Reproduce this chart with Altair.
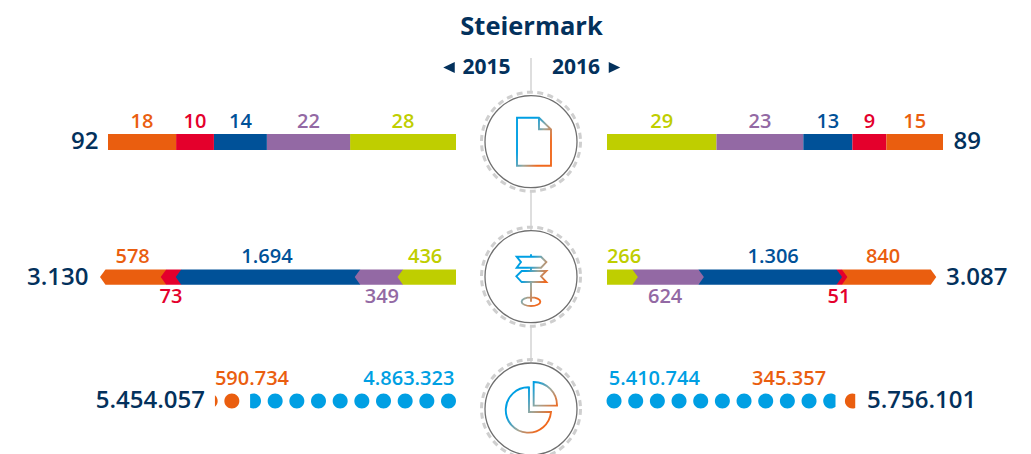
import math
import altair as alt
import pandas as pd

# ---------- data ----------
SEG_COLORS = ["#bfce00", "#9369a4", "#005198", "#e4002c", "#ea5e0f"]  # centre -> outside
TITLE = "Steiermark"
YEARS = ["2015", "2016"]

docs_2015 = [28, 22, 14, 10, 18]
docs_2016 = [29, 23, 13, 9, 15]
docs_totals = [92, 89]

kms_2015 = [436, 349, 1694, 73, 578]
kms_2016 = [266, 624, 1306, 51, 840]
kms_totals = [3130, 3087]
# segment ends of the 2015 arrow as drawn in the picture (not strictly proportional)
kms_2015_drawn_ends = [494, 873, 2459, 2592, 3130]

people_2015 = [4863323, 590734]
people_2016 = [5410744, 345357]
people_totals = [5454057, 5756101]
PEOPLE_PER_DOT = 500000

# ---------- layout (page pixels) ----------
W, H, M = 1023, 454, 8   # the svg may not be wider than window minus both page margins
CX = 531
FONT = "Open Sans"
NAVY = "#03315c"
DOT_BLUE = "#009fe3"
ORANGE = "#ea5e0f"
LABEL_SIZE = 20
Y_SCALE = alt.Scale(domain=[M, H], range=[0, H - M])
PAGE_X = alt.Scale(domain=[M, W], range=[0, W - M])


def fmt(v):
    return f"{v:,}".replace(",", ".")


def xs(domain, px):
    return alt.Scale(domain=domain, range=[p - M for p in px])


def y(field="y"):
    return alt.Y(f"{field}:Q", scale=Y_SCALE, axis=None)


def text_layer(rows, scale, size, align="center", weight=600):
    return alt.Chart(pd.DataFrame(rows)).mark_text(
        font=FONT, fontSize=size, fontWeight=weight, align=align, baseline="middle", clip=False
    ).encode(
        x=alt.X("x:Q", scale=scale, axis=None),
        y=y(),
        text="t:N",
        color=alt.Color("c:N", scale=None),
    )


layers = []

# connectors
conn = pd.DataFrame({"x": [CX] * 3, "y": [58, 190, 327], "y2": [92, 230, 362]})
layers.append(alt.Chart(conn).mark_rule(color="#bdbdbd", strokeWidth=1).encode(
    x=alt.X("x:Q", scale=PAGE_X, axis=None), y=y(), y2="y2:Q"))


# ---------- row 1: flat stacked bars ----------
def flat_row(values, px, ymin, ymax, ylab):
    scale = xs([0, sum(values)], px)
    rows, labs = [], []
    c = 0
    for v, col in zip(values, SEG_COLORS):
        rows.append({"a": c, "b": c + v, "y": ymin, "y2": ymax, "c": col})
        labs.append({"x": c + v / 2, "y": ylab, "t": fmt(v), "c": col})
        c += v
    bar = alt.Chart(pd.DataFrame(rows)).mark_rect().encode(
        x=alt.X("a:Q", scale=scale, axis=None), x2="b:Q", y=y(), y2="y2:Q",
        color=alt.Color("c:N", scale=None))
    return [bar, text_layer(labs, scale, LABEL_SIZE)]


layers += flat_row(docs_2015, [456, 108], 134, 150, 122)
layers += flat_row(docs_2016, [607, 943], 134, 150, 122)


# ---------- row 2: chevron arrows ----------
def arrow_row(values, ends, px, tip_px, ytop, ybot, ylab_top, ylab_bot, nudges):
    total = values and ends[-1]
    scale = xs([0, total], px)
    units_per_px = abs(total / (px[1] - px[0]))
    d = tip_px * units_per_px
    ymid = (ytop + ybot) / 2
    pts, labs = [], []
    starts = [0] + ends[:-1]
    for i in reversed(range(len(values))):
        inner = 0 if i == 0 else starts[i] - d
        e = ends[i]
        for yy, tip in ((ytop, -d), (ymid, d), (ybot, -d)):
            pts.append({"y": yy, "a": inner, "b": e + tip, "seg": i, "c": SEG_COLORS[i]})
    for i, v in enumerate(values):
        labs.append({"x": (starts[i] + ends[i]) / 2 + nudges[i] * units_per_px,
                     "y": ylab_top if i in (0, 2, 4) else ylab_bot,
                     "t": fmt(v), "c": SEG_COLORS[i]})
    area = alt.Chart(pd.DataFrame(pts)).mark_area(orient="horizontal", opacity=1).encode(
        y=y(), x=alt.X("a:Q", scale=scale, axis=None), x2="b:Q",
        color=alt.Color("c:N", scale=None), detail="seg:N")
    return [area, text_layer(labs, scale, LABEL_SIZE)]


def cumul(v):
    out, c = [], 0
    for a in v:
        c += a
        out.append(c)
    return out


layers += arrow_row(kms_2015, kms_2015_drawn_ends, [456, 102.75], 2.75, 269.5, 284.7, 257, 297,
                    [3, -3, 1, 0, 0.5])
layers += arrow_row(kms_2016, cumul(kms_2016), [607, 933.5], 2.75, 269.5, 284.7, 257, 297,
                    [3, -3, 3, -3, -6])


# ---------- row 3: unit dots ----------
def clipped(frac, side):
    if frac >= 0.999:
        return "M1,0A1,1 0 1 1 -1,0A1,1 0 1 1 1,0Z"
    large = 1 if frac > 0.5 else 0
    if side == "left":          # bar grows leftwards: right part of the dot is kept
        c = 1 - 2 * frac
        h = math.sqrt(1 - c * c)
        return f"M{c:.4f},{-h:.4f}A1,1 0 {large} 1 {c:.4f},{h:.4f}Z"
    c = -1 + 2 * frac
    h = math.sqrt(1 - c * c)
    return f"M{c:.4f},{h:.4f}A1,1 0 {large} 1 {c:.4f},{-h:.4f}Z"


def dot_row(values, side, px, ydot, ylab, lab_slots):
    scale = xs([0, 12], px)
    rows = []
    slot = 0
    for v, col in zip(values, [DOT_BLUE, ORANGE]):
        n = v / PEOPLE_PER_DOT
        k = 0
        while n > 1e-6:
            f = min(1.0, n)
            rows.append({"x": slot + k + 0.5, "y": ydot, "p": clipped(f, side), "c": col})
            n -= f
            k += 1
        slot += k
    dots = alt.Chart(pd.DataFrame(rows)).mark_point(filled=True, opacity=1, size=225, strokeWidth=0).encode(
        x=alt.X("x:Q", scale=scale, axis=None), y=y(),
        shape=alt.Shape("p:N", scale=None),
        color=alt.Color("c:N", scale=None))
    labs = [{"x": s, "y": ylab, "t": fmt(v), "c": c}
            for s, v, c in zip(lab_slots, values, [DOT_BLUE, ORANGE])]
    return [dots, text_layer(labs, scale, LABEL_SIZE)]


layers += dot_row(people_2015, "left", [459.33, 199.33], 401, 378.5, [2.33, 9.57])
layers += dot_row(people_2016, "right", [603.2, 863.2], 401, 378.5, [2.36, 8.58])

# ---------- totals, title, years ----------
layers.append(text_layer([
    {"x": 98.5, "y": 141.5, "t": fmt(docs_totals[0]), "c": NAVY},
    {"x": 88.5, "y": 277.5, "t": fmt(kms_totals[0]), "c": NAVY},
    {"x": 205, "y": 401, "t": fmt(people_totals[0]), "c": NAVY},
], PAGE_X, 24, "right", 600))
layers.append(text_layer([
    {"x": 953.5, "y": 141.5, "t": fmt(docs_totals[1]), "c": NAVY},
    {"x": 946, "y": 277.5, "t": fmt(kms_totals[1]), "c": NAVY},
    {"x": 867, "y": 401, "t": fmt(people_totals[1]), "c": NAVY},
], PAGE_X, 24, "left", 600))
layers.append(text_layer([{"x": 531.5, "y": 27, "t": TITLE, "c": NAVY}], PAGE_X, 25.5, "center", 700))
layers.append(text_layer([
    {"x": 486.5, "y": 67.5, "t": YEARS[0], "c": NAVY},
    {"x": 576, "y": 67.5, "t": YEARS[1], "c": NAVY},
], PAGE_X, 21, "center", 700))
tri = pd.DataFrame({"x": [449, 614.5], "y": [67.5, 67.5],
                    "p": ["M1,-.95L1,.95L-1,0Z", "M-1,-.95L-1,.95L1,0Z"]})
layers.append(alt.Chart(tri).mark_point(filled=True, opacity=1, size=132, color=NAVY, strokeWidth=0).encode(
    x=alt.X("x:Q", scale=PAGE_X, axis=None), y=y(), shape=alt.Shape("p:N", scale=None)))

# ---------- rings ----------
ring_ys = pd.DataFrame({"x": [CX] * 3, "y": [141.7, 276.7, 409]})
layers.append(alt.Chart(ring_ys).mark_point(
    filled=False, opacity=1, size=(2 * 49.5) ** 2, shape="circle", stroke="#cfcfcf",
    strokeWidth=3, strokeDash=[6, 4.4], clip=True
).encode(x=alt.X("x:Q", scale=PAGE_X, axis=None), y=y()))
layers.append(alt.Chart(ring_ys).mark_point(
    filled=False, opacity=1, size=(2 * 46) ** 2, shape="circle", stroke="#6f6f6f",
    strokeWidth=1.3, clip=True
).encode(x=alt.X("x:Q", scale=PAGE_X, axis=None), y=y()))

# ---------- icons ----------
DOC = "M-.583,-1L.333,-1L.833,-.517L.833,1L-.583,1ZM.333,-1L.333,-.517L.833,-.517"
SIGN = ("M-.597,-.833L.417,-.833L.639,-.611L.417,-.375L-.597,-.375L-.417,-.611Z"
        "M.639,-.236L-.389,-.236L-.611,-.014L-.389,.222L.639,.222L.417,-.014Z"
        "M0,-.931L0,-.833M0,-.375L0,-.236M0,.222L0,1.042"
        "M-.389,1.042A.389,.18 0 1 1 .389,1.042A.389,.18 0 1 1 -.389,1.042Z")
PIE = ("M-.083,-.903A.944,.944 0 1 0 .833,.125L-.083,.125Z"
       "M.111,-.139L.111,-1.125A.972,.972 0 0 1 1.083,-.139Z")
grad = alt.LinearGradient(gradient="linear", x1=0, y1=0.1, x2=1, y2=0.9, stops=[
    alt.GradientStop(color=DOT_BLUE, offset=0.3),
    alt.GradientStop(color="#9fa79a", offset=0.55),
    alt.GradientStop(color="#f0691e", offset=0.8),
])
for path, cy in ((DOC, 141.7), (SIGN, 276.7), (PIE, 409)):
    d = pd.DataFrame({"x": [CX], "y": [cy], "p": [path]})
    layers.append(alt.Chart(d).mark_point(
        filled=False, opacity=1, size=48 ** 2, stroke=grad, strokeWidth=1.9
    ).encode(x=alt.X("x:Q", scale=PAGE_X, axis=None), y=y(), shape=alt.Shape("p:N", scale=None)))

chart = alt.layer(*layers).resolve_scale(x="independent").properties(
    width=W - M, height=H - M, padding=0, autosize=alt.AutoSizeParams(type="none"),
    background="white",
).configure_view(stroke=None)

chart.save("out.html", embed_options={"renderer": "svg", "actions": False})
